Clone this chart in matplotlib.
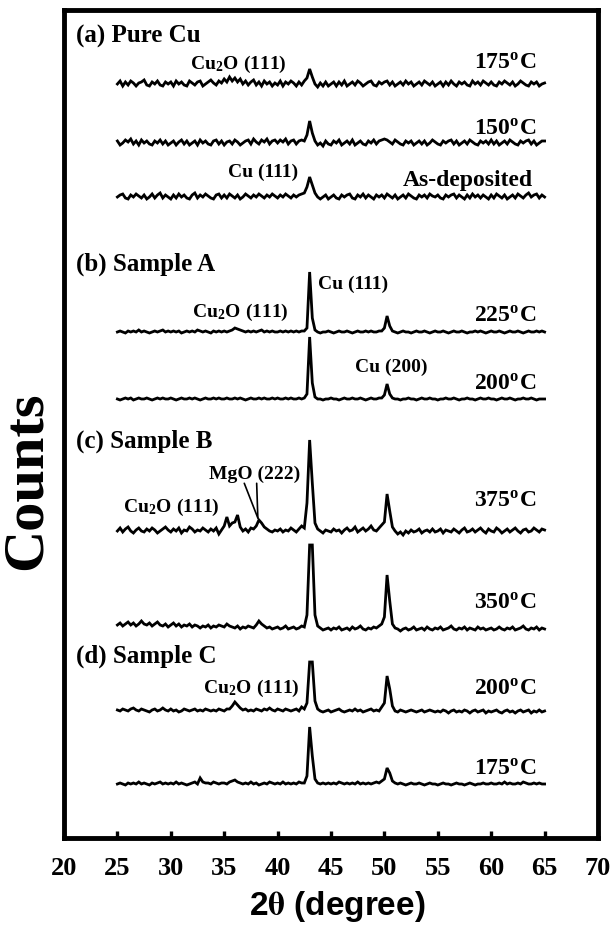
import numpy as np
import matplotlib
matplotlib.use("Agg")
import matplotlib.pyplot as plt

plt.rcParams['font.family'] = ['Liberation Serif', 'DejaVu Serif']
plt.rcParams['font.weight'] = 'bold'
plt.rcParams['mathtext.fontset'] = 'stix'

# 2-theta scan grid (degrees), 0.25 deg step
two_theta = np.linspace(25, 65, 161)

# Intensities above each pattern's baseline (arb. units)
pure_cu_175 = [
    0, 3, -2, 2, -1, 3, 1, -2, 1, 2, 4, -1, -2, 2, 0, 3, -1, -2, 2, 0,
    2, -2, 3, 0, 2, -1, -2, 3, 1, -1, 2, 3, -2, 0, 2, 4, 1, -1, 3, 1,
    5, 2, 7, 3, 6, 2, 5, 0, 3, -1, 2, 4, -1, 2, -2, 3, 0, 2, -2, 1,
    -1, 3, -2, 2, 0, 3, 1, -2, 2, -1, 3, 6, 15, 7, 0, -3, 1, -2, 2, -2,
    0, 2, -2, 2, -1, 3, -2, 0, 2, -1, 3, 1, -2, 0, 2, 3, -1, -2, 2, 0,
    2, 3, -1, 2, -2, 0, 2, -1, 3, 0, 2, -2, 0, 2, -1, 3, 1, -1, 2, -2,
    0, 2, -2, 2, -1, 3, 0, -2, 2, 0, 2, -1, -2, 3, 0, 2, -1, 3, 1, -1,
    2, -1, -2, 2, 0, 3, 1, -1, 2, -2, 0, 3, 1, -1, -2, 2, 0, 2, -2, 0,
    1]
pure_cu_150 = [
    2, -2, 0, 3, 1, 4, -1, 2, -2, 3, 0, 2, -1, -2, 2, 0, 3, -1, 2, -2,
    0, 2, -2, 1, 3, -1, 2, -2, 0, 2, -2, 3, 0, 2, -1, -2, 2, 3, -1, 2,
    -2, 1, 2, -1, 3, 1, -2, 0, 2, 3, -1, 4, 1, -1, 3, 1, 4, -1, 2, 3,
    0, 3, 1, 4, -1, 2, 3, -1, 2, 3, 2, 8, 22, 10, 2, -2, 0, -3, 2, -1,
    -2, 2, 0, 3, -2, 0, 2, -1, 3, -2, 0, 2, -1, -2, 2, 0, 3, -1, 2, 3,
    4, 3, 1, -1, 3, 1, -1, -2, 2, 0, 2, -2, 0, 2, -1, 2, -2, 0, 3, 1,
    -1, -2, 2, 0, 2, 3, -1, 2, -2, 0, 2, -1, 3, 1, -1, -2, 2, 0, 2, -1,
    3, -1, 2, -2, 0, 2, -1, 3, 1, -1, -2, 2, 0, 2, 3, -1, 2, -2, 0, 2,
    2]
pure_cu_asdep = [
    0, 2, 3, -1, -2, 2, 0, 3, 1, -1, 2, -2, 0, 3, -1, 2, 4, -1, 2, 0,
    -2, 2, -1, 3, 0, 2, -1, -2, 2, 4, -1, 2, 0, 3, 1, -1, -2, 2, 3, -1,
    2, -1, 3, 1, -1, 2, -2, 0, 3, 1, -1, 2, 0, 3, 1, -1, 2, 0, 3, 1,
    -1, 2, 0, 3, 1, -1, 2, 0, 2, 3, 4, 10, 20, 12, 4, 0, -2, 0, 2, -2,
    0, 2, -1, -2, 2, 0, 2, 3, -1, -2, 2, 0, 3, -1, 2, 0, -2, 2, 0, 2,
    -1, 3, 1, -1, 2, -2, 0, 2, -1, 3, 1, -1, -2, 2, 0, 2, -1, 3, 1, 0,
    2, -1, -2, 2, 0, 2, 3, -1, 2, 0, -2, 2, -1, 3, 0, 2, -1, 2, 0, -2,
    2, -1, 3, 1, -1, 2, -2, 0, 2, -1, 3, 1, -1, 2, 4, 0, 2, 3, -1, 2,
    0]
sample_a_225 = [
    0, 1, 0, -1, 1, 0, 1, 0, 2, 0, 1, 0, -1, 0, 1, 0, 1, 2, 0, 1,
    0, 1, 0, 1, -1, 0, 1, 0, 1, 0, 2, 1, 0, 1, 0, -1, 1, 0, 1, 0,
    1, 0, 1, 2, 4, 3, 2, 1, 0, 1, 0, 1, 0, 1, 2, 0, 1, 0, 1, 0,
    0, 1, 0, 1, 0, 1, 0, 1, 0, 1, 1, 4, 60, 14, 2, 0, -1, 0, 0, 1,
    0, -1, 0, 1, 0, 0, 1, 0, -1, 0, 1, 0, 0, 1, 0, 1, 0, 0, 1, 1,
    4, 16, 6, 1, 0, -1, 0, 1, 0, 0, -1, 0, 1, 0, 0, 1, 0, -1, 0, 1,
    0, 0, 1, 0, -1, 0, 1, 0, 0, 1, 0, -1, 0, 0, 1, 0, 1, 0, -1, 0,
    1, 0, 0, 1, 0, -1, 0, 1, 0, 0, 1, 0, -1, 0, 1, 0, 0, 1, 0, 1,
    0]
sample_a_200 = [
    0, -1, 0, 1, 0, 1, -1, 0, 1, 0, 0, 1, 0, -1, 0, 1, 0, 1, 0, 0,
    1, 0, -1, 0, 1, 0, 0, 1, 0, 1, 0, -1, 0, 1, 0, 0, 1, 0, 1, 0,
    0, 1, 0, 0, 1, 0, 1, 0, -1, 0, 1, 0, 0, 1, 0, 1, 0, 0, 1, 0,
    1, 0, 0, 1, 0, 1, 0, 0, 1, 0, 1, 5, 62, 16, 2, 0, 0, -1, 0, 0,
    1, 0, 0, -1, 0, 1, 0, 0, 1, 0, 0, 1, 0, -1, 0, 1, 0, 0, 1, 1,
    4, 15, 5, 1, 0, 0, -1, 0, 0, 1, 0, 0, -1, 0, 1, 0, 0, 1, 0, 0,
    -1, 0, 0, 1, 0, 0, 1, 0, -1, 0, 0, 1, 0, 0, -1, 0, 1, 0, 0, 1,
    0, 0, -1, 0, 1, 0, 0, 1, 0, -1, 0, 0, 1, 0, 0, 1, 0, -1, 0, 0,
    0]
sample_b_375 = [
    0, 3, -1, 2, 4, 0, -2, 1, 3, 0, -1, 2, 0, 3, 1, -2, 0, 2, 4, 1,
    -1, 2, 0, 3, -2, 1, 0, 4, 2, -1, 1, 0, 3, 1, -1, 2, 0, 3, -3, 1,
    5, 14, 5, 8, 9, 16, 4, 0, 2, -1, 3, 2, 5, 11, 8, 4, 2, 0, -1, 1,
    0, 2, -1, 1, 0, 3, 1, -1, 2, 5, 3, 28, 91, 48, 8, 2, 0, -2, 1, 0,
    -1, 2, 0, 1, -2, 1, 3, 0, 1, 4, -1, 1, 3, 0, 2, 5, 1, 0, 3, 6,
    9, 37, 20, 4, 0, -3, -1, -4, 0, -2, 1, -1, 0, 2, -2, 0, 1, -1, 2, -1,
    0, 2, -2, 1, 0, -1, 2, 0, -2, 1, 3, -1, 0, 2, -1, 1, 3, 0, -2, 2,
    0, -1, 3, 1, -2, 0, 2, -1, 1, 3, 0, -2, 1, 2, -1, 0, 3, 1, -1, 2,
    1]
sample_b_350 = [
    4, 6, 3, 5, 7, 4, 6, 3, 5, 8, 5, 4, 6, 3, 5, 7, 4, 3, 5, 2,
    4, 6, 3, 5, 2, 4, 3, 5, 2, 4, 3, 1, 3, 2, 4, 1, 3, 2, 4, 3,
    2, 5, 3, 2, 1, 3, 0, 2, 1, 3, 2, 1, 4, 8, 5, 3, 1, 2, 0, 1,
    2, 0, 1, 3, 0, 1, 2, 0, 1, 3, 2, 14, 84, 84, 14, 3, 1, -1, 0, 1,
    -1, 1, 0, 2, -1, 0, 1, -1, 2, 0, 1, 3, 0, -1, 1, 0, 2, 1, 3, 5,
    12, 54, 28, 5, 1, 0, -2, 0, 1, -1, 0, 2, -1, 0, 1, -1, 2, 0, -1, 1,
    0, 2, -1, 0, 1, 3, 0, -1, 1, 0, 2, -1, 1, 0, -1, 2, 0, 1, -1, 0,
    1, -1, 0, 2, 0, -1, 1, 0, 2, -1, 0, 1, 3, 0, -1, 1, 0, 2, -1, 1,
    0]
sample_c_200 = [
    1, 0, 2, 1, 0, 2, 3, 1, 0, 2, 1, 0, -1, 1, 2, 0, 1, 3, 1, 0,
    2, 0, 1, -1, 0, 2, 1, 0, 1, 2, 0, 1, 0, 2, 1, 0, 1, 0, 2, 1,
    0, 2, 2, 5, 9, 6, 3, 1, 2, 0, 1, 0, 2, 1, 0, 2, 1, 3, 1, 0,
    2, 1, 0, 2, 1, 0, 1, 2, 0, 4, 2, 8, 49, 49, 10, 2, 0, -1, 0, 1,
    -1, 0, 1, 2, 0, -1, 0, 1, 0, 2, 0, 1, -1, 0, 1, 2, 0, 1, 0, 4,
    8, 35, 22, 5, 0, -1, 1, 0, -1, 0, 1, 0, -1, 0, 1, -1, 0, 1, 0, -1,
    0, -1, 1, 0, -2, 0, 1, -1, 0, -1, 1, 0, -2, 0, 1, -1, 0, 1, -2, 0,
    -1, 0, 1, -1, -2, 0, 1, -1, 0, -2, 0, 1, -1, 0, 1, -2, 0, -1, 1, -1,
    0]
sample_c_175 = [
    0, 1, 0, -1, 1, 0, 1, 0, 2, 0, 1, 0, -1, 1, 0, 1, 2, 0, 1, 0,
    1, 0, 2, 0, 1, 0, -1, 0, 1, 2, 0, 6, 2, 1, 1, 0, 2, 1, 0, 1,
    1, 0, 2, 3, 4, 2, 1, 0, 1, 0, 2, 0, 1, -1, 0, 1, 0, 2, 1, 0,
    1, 0, 2, 0, 1, 0, 1, 0, 2, 1, 1, 8, 57, 28, 5, 1, 0, 1, 0, 1,
    0, 1, 0, 2, 1, 0, 1, 0, 1, 0, 2, 0, 1, 0, 1, 0, 1, 2, 1, 3,
    5, 16, 11, 3, 1, 0, 1, 0, -1, 0, 1, 0, 0, 1, 0, -1, 0, 1, 0, 0,
    -1, 0, 1, 0, 0, -1, 0, 1, 0, 0, -1, 0, 1, 0, -1, 0, 0, 1, 0, 0,
    1, 0, 0, 1, 0, 2, 0, 1, 0, 0, 1, 0, 2, 1, 0, 0, 1, 0, 1, 0,
    0]

patterns = [pure_cu_175, pure_cu_150, pure_cu_asdep,
            sample_a_225, sample_a_200,
            sample_b_375, sample_b_350,
            sample_c_200, sample_c_175]
temperatures = ['175$^\\mathregular{o}$C', '150$^\\mathregular{o}$C', 'As-deposited',
                '225$^\\mathregular{o}$C', '200$^\\mathregular{o}$C',
                '375$^\\mathregular{o}$C', '350$^\\mathregular{o}$C',
                '200$^\\mathregular{o}$C', '175$^\\mathregular{o}$C']
panel_titles = ['(a) Pure Cu', '(b) Sample A', '(c) Sample B', '(d) Sample C']
x_ticks = [20, 25, 30, 35, 40, 45, 50, 55, 60, 65, 70]

# vertical stacking of the patterns and label placement
offsets = [753.5, 694.5, 640.5, 505.5, 438.5, 306.5, 208.5, 126.5, 53.5]
temp_label_y = [767.5, 701.5, 651.5, 514.5, 446.5, 329.5, 227.5, 141.5, 61.5]
panel_title_y = [794.5, 566.5, 389.5, 174.5]

fig = plt.figure(figsize=(6.13, 9.30), dpi=100)
ax = fig.add_axes([64 / 613, 1 - 837.5 / 930, 534 / 613, 827.5 / 930])
ax.set_xlim(20, 70)
ax.set_ylim(0, 827.5)

for counts, off in zip(patterns, offsets):
    ax.plot(two_theta, np.asarray(counts, dtype=float) + off,
            color='black', lw=2.0, solid_joinstyle='miter')

for lab, y in zip(temperatures, temp_label_y):
    xr = 63.9 if lab == 'As-deposited' else 64.2
    ax.text(xr, y, lab, ha='right', va='baseline', fontsize=17)

for lab, y in zip(panel_titles, panel_title_y):
    ax.text(21.15, y, lab, ha='left', va='baseline', fontsize=18)

cu2o = 'Cu$_\\mathregular{2}$O (111)'
peak_labels = [
    (31.8, 769.0, cu2o),
    (35.36, 661.0, 'Cu (111)'),
    (31.99, 521.0, cu2o),
    (43.78, 548.5, 'Cu (111)'),
    (47.25, 466.0, 'Cu (200)'),
    (33.58, 358.5, 'MgO (222)'),
    (25.52, 326.0, cu2o),
    (33.01, 145.0, cu2o),
]
for x, y, lab in peak_labels:
    ax.text(x, y, lab, ha='left', va='baseline', fontsize=14)

# leader lines from the MgO label to its reflection on the 375 C pattern
i_mgo = 53
tip = (two_theta[i_mgo] - 0.1, offsets[5] + sample_b_375[i_mgo] + 2)
for start in [(36.88, 354.2), (38.04, 354.2)]:
    ax.annotate('', xy=tip, xytext=start,
                arrowprops=dict(arrowstyle='-', lw=1.2, color='black',
                                shrinkA=0, shrinkB=0))

for side in ['left', 'right', 'top', 'bottom']:
    ax.spines[side].set_linewidth(3.5)
ax.set_yticks([])
ax.set_xticks(x_ticks)
ax.tick_params(axis='x', direction='in', length=5, width=2.4, pad=14,
               labelsize=19, top=False)
for t in ax.get_xticklabels():
    t.set_fontweight('bold')

fig.text(27 / 613, 1 - 481 / 930, 'Counts', rotation=90, ha='center',
         va='center', fontsize=42, fontweight='bold')
fig.text(337 / 613, 1 - 906 / 930, '2$\\mathrm{\\theta}$ (degree)',
         ha='center', va='center', fontsize=24, fontweight='bold',
         family=['Liberation Sans', 'DejaVu Sans'])

fig.savefig('out.png', dpi=100)
